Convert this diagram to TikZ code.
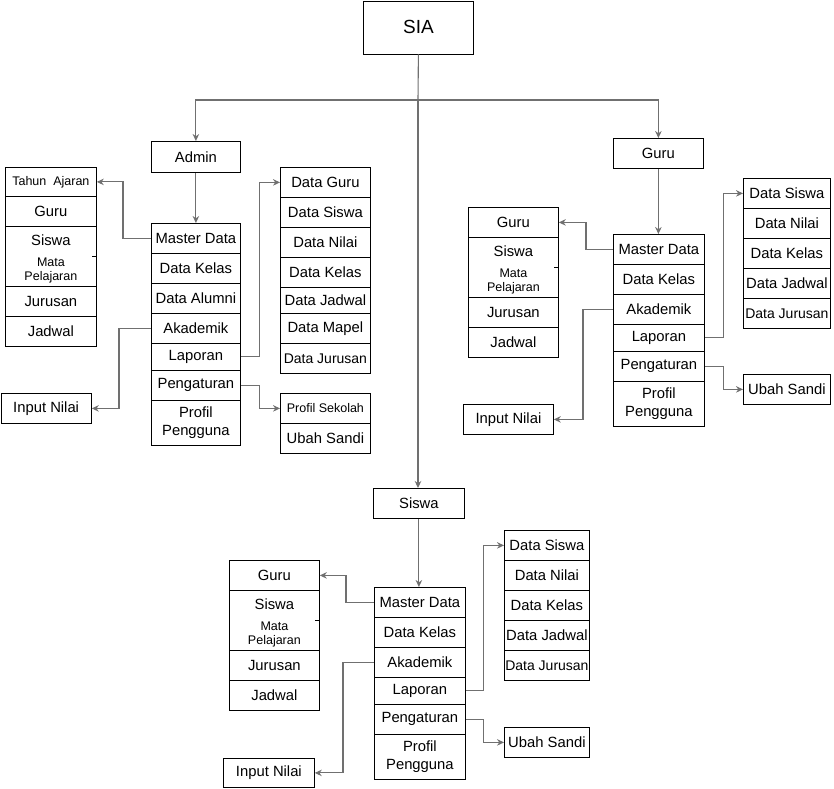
\documentclass[tikz,border=0pt]{standalone}
\usepackage{fontspec}
\setmainfont{Liberation Sans}
\usetikzlibrary{arrows.meta}
\definecolor{linkgray}{RGB}{112,112,112}
\begin{document}
\begin{tikzpicture}[x=1pt,y=-1pt,font=\fontsize{14.8}{17.5}\selectfont,
    cell/.style={draw,line width=0.8pt,anchor=north west,inner sep=0pt,align=center,minimum width=90pt,minimum height=30pt},
    tight/.style={font=\fontsize{14}{17}\selectfont},
    smalltext/.style={font=\fontsize{12.5}{14}\selectfont,align=center,inner sep=0pt},
    wire/.style={draw=linkgray,line width=1.1pt},
    link/.style={wire,-{Stealth[length=7pt,width=6.5pt]}}]
\useasboundingbox (0,0) rectangle (834,788);
% top level
\node[cell,minimum width=110pt,minimum height=53pt,font=\fontsize{19}{22}\selectfont] (sia) at (363,0.5) {SIA};
\node[cell,minimum width=89pt,minimum height=31pt] (admin) at (151,141) {Admin};
\node[cell] (guru) at (613,138) {Guru};
\node[cell,minimum width=91pt] (siswa) at (373,488) {Siswa};
\coordinate (hub) at (418,100);
\draw[wire] (sia.south) -- (hub);
\draw[link] (hub) -| (admin.north);
\draw[link] (hub) -| (guru.north);
\draw[link] (hub) -- (hub |- siswa.north);

% Admin
\node[cell,minimum width=91pt,minimum height=29pt,font=\fontsize{12.5}{14}\selectfont] (aTahun) at (5,167) {Tahun\ \ Ajaran};
\node[cell,minimum width=91pt] (aGuru) at (5,196) {Guru};
\node[cell,minimum width=91pt,minimum height=60pt] (aSM) at (5,226) {};
\node (aSiswa) at ([yshift=-14pt]aSM.north) {Siswa};
\node[smalltext] (aMapel) at ([yshift=-44pt]aSM.north) {Mata\\Pelajaran};
\draw (aSM.east) -- ++(-5,0);
\node[cell,minimum width=91pt] (aJurusan) at (5,286) {Jurusan};
\node[cell,minimum width=91pt] (aJadwal) at (5,316) {Jadwal};
\node[cell,minimum width=89pt] (aMaster) at (151,223) {Master Data};
\node[cell,minimum width=89pt] (aKelas) at (151,253) {Data Kelas};
\node[cell,minimum width=89pt] (aAlumni) at (151,283) {Data Alumni};
\node[cell,minimum width=89pt] (aAkad) at (151,313) {Akademik};
\node[cell,minimum width=89pt,minimum height=27pt] (aLap) at (151,343) {Laporan};
\node[cell,minimum width=89pt] (aAtur) at (151,370) {Pengaturan};
\node[cell,minimum width=89pt,minimum height=45pt] (aProfil) at (151,400) {Profil\\Pengguna};
\node[cell] (aDGuru) at (280,167) {Data Guru};
\node[cell] (aDSiswa) at (280,197) {Data Siswa};
\node[cell] (aDNilai) at (280,227) {Data Nilai};
\node[cell] (aDKelas) at (280,257) {Data Kelas};
\node[cell,minimum height=26pt] (aDJadwal) at (280,287) {Data Jadwal};
\node[cell] (aDMapel) at (280,313) {Data Mapel};
\node[cell,tight] (aDJur) at (280,343) {Data Jurusan};
\node[cell,font=\fontsize{12.5}{14}\selectfont] (aProfSek) at (280,393) {Profil Sekolah};
\node[cell] (aUbah) at (280,423) {Ubah Sandi};
\node[cell,minimum width=90.5pt] (aInput) at (0.5,393) {Input Nilai};
\draw[link] (admin.south) -- (aMaster.north);
\draw[link] (aMaster.west) -- ++(-28,0) |- (aTahun.east);
\draw[link] (aAkad.west) -- ++(-32,0) |- (aInput.east);
\draw[link] (aLap.east) -- ++(19,0) |- (aDGuru.west);
\draw[link] (aAtur.east) -- ++(19,0) |- (aProfSek.west);

% Guru
\node[cell] (gGuru) at (468,207) {Guru};
\node[cell,minimum height=60pt] (gSM) at (468,237) {};
\node (gSiswa) at ([yshift=-14pt]gSM.north) {Siswa};
\node[smalltext] (gMapel) at ([yshift=-44pt]gSM.north) {Mata\\Pelajaran};
\draw (gSM.east) -- ++(-5,0);
\node[cell] (gJurusan) at (468,297) {Jurusan};
\node[cell] (gJadwal) at (468,327) {Jadwal};
\node[cell,minimum width=91pt] (gMaster) at (613,234) {Master Data};
\node[cell,minimum width=91pt] (gKelas) at (613,264) {Data Kelas};
\node[cell,minimum width=91pt] (gAkad) at (613,294) {Akademik};
\node[cell,minimum width=91pt,minimum height=27pt] (gLap) at (613,324) {Laporan};
\node[cell,minimum width=91pt] (gAtur) at (613,351) {Pengaturan};
\node[cell,minimum width=91pt,minimum height=45pt] (gProfil) at (613,381) {Profil\\Pengguna};
\foreach \t [count=\i] in {Data Siswa,Data Nilai,Data Kelas,Data Jadwal}
    \node[cell,minimum width=87pt] (gR\i) at (743,{148+30*\i}) {\t};
\node[cell,tight,minimum width=87pt] (gR5) at (743,298) {Data Jurusan};
\node[cell,minimum width=87pt] (gUbah) at (743,374) {Ubah Sandi};
\node[cell] (gInput) at (463,404) {Input Nilai};
\draw[link] (guru.south) -- (guru.south |- gMaster.north);
\draw[link] (gMaster.west) -- ++(-27,0) |- (gGuru.east);
\draw[link] (gAkad.west) -- ++(-30,0) |- (gInput.east);
\draw[link] (gLap.east) -- ++(19,0) |- (gR1.west);
\draw[link] (gAtur.east) -- ++(19,0) |- (gUbah.west);

% Siswa
\node[cell] (sGuru) at (229,560) {Guru};
\node[cell,minimum height=60pt] (sSM) at (229,590) {};
\node (sSiswa) at ([yshift=-14pt]sSM.north) {Siswa};
\node[smalltext] (sMapel) at ([yshift=-44pt]sSM.north) {Mata\\Pelajaran};
\draw (sSM.east) -- ++(-5,0);
\node[cell] (sJurusan) at (229,650) {Jurusan};
\node[cell] (sJadwal) at (229,680) {Jadwal};
\node[cell,minimum width=91pt] (sMaster) at (374,587) {Master Data};
\node[cell,minimum width=91pt] (sKelas) at (374,617) {Data Kelas};
\node[cell,minimum width=91pt] (sAkad) at (374,647) {Akademik};
\node[cell,minimum width=91pt,minimum height=27pt] (sLap) at (374,677) {Laporan};
\node[cell,minimum width=91pt] (sAtur) at (374,704) {Pengaturan};
\node[cell,minimum width=91pt,minimum height=45pt] (sProfil) at (374,734) {Profil\\Pengguna};
\foreach \t [count=\i] in {Data Siswa,Data Nilai,Data Kelas,Data Jadwal}
    \node[cell,minimum width=85pt] (sR\i) at (504,{500+30*\i}) {\t};
\node[cell,tight,minimum width=85pt] (sR5) at (504,650) {Data Jurusan};
\node[cell,minimum width=85pt] (sUbah) at (504,727) {Ubah Sandi};
\node[cell,minimum width=91pt,minimum height=29pt] (sInput) at (223,758) {Input Nilai};
\draw[link] (siswa.south) -- (siswa.south |- sMaster.north);
\draw[link] (sMaster.west) -- ++(-28,0) |- (sGuru.east);
\draw[link] (sAkad.west) -- ++(-31,0) |- (sInput.east);
\draw[link] (sLap.east) -- ++(18,0) |- (sR1.west);
\draw[link] (sAtur.east) -- ++(18,0) |- (sUbah.west);
\end{tikzpicture}
\end{document}
